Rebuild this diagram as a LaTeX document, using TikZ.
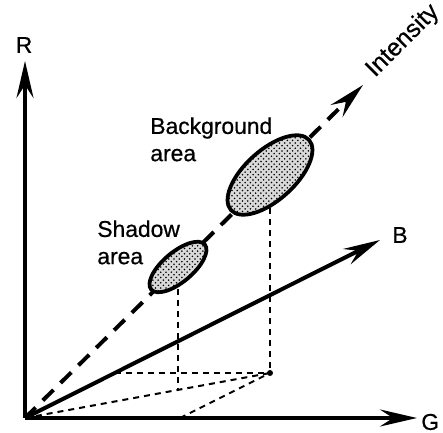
\documentclass[tikz,border=0pt]{standalone}
\usepackage{fontspec}
\setmainfont[FakeBold=0.6]{Liberation Sans}
\usetikzlibrary{arrows.meta,positioning,shapes.geometric,patterns}

\begin{document}
\begin{tikzpicture}[x=0.2mm,y=0.2mm,
    axis/.style={line width=0.8mm, -{Stealth[length=7.4mm,width=3.4mm,inset=2.6mm]}},
    proj/.style={line width=0.4mm, dash pattern=on 1.2mm off 1mm},
    blob/.style={ellipse, draw, line width=0.75mm, preaction={fill=gray!30}, pattern=crosshatch dots, inner sep=0pt},
    lbl/.style={font=\fontsize{13}{15.5}\selectfont, inner sep=0pt}]
    \useasboundingbox (0,0) rectangle (443,433);
    % axes ends
    \coordinate (O) at (25,15);
    \coordinate (R) at (25,372);
    \coordinate (G) at (417,15);
    \coordinate (B) at (380,193);
    \coordinate (I) at (363,348);
    % projection points
    \coordinate (P) at (270,60);
    \coordinate (Pg) at (180,15);
    \coordinate (Pb) at (115,60);
    \coordinate (Sf) at (178,43.1);
    \coordinate (Sc) at (178,166);
    \coordinate (Bc) at (270,258);
    % floor projection
    \draw[proj] (O) -- (P);
    \draw[proj] (Pg) -- (P);
    \draw[proj] (Pb) -- (P);
    \draw[proj] (Sc) -- (Sf);
    \draw[proj] (Bc) -- (P);
    \fill (P) circle (3);
    % intensity axis
    \draw[axis, dash pattern=on 3mm off 2mm] (O) -- (I);
    % colour clusters
    \node[blob, rotate=40, minimum width=14mm, minimum height=6mm] (shadow) at (Sc) {};
    \node[blob, rotate=42, minimum width=21mm, minimum height=10mm] (backgr) at (Bc) {};
    % RGB axes
    \draw[axis] (O) -- (B);
    \draw[axis] (O) -- (R);
    \draw[axis] (O) -- (G);
    % labels
    \node[lbl] (Rl) at (24,388) {R};
    \node[lbl, anchor=west] (Gl) at (421,11) {G};
    \node[lbl] (Bl) at (400,198) {B};
    \node[lbl, rotate=45, font=\fontsize{14}{16}\selectfont] (Il) at (403,392) {Intensity};
    \node[lbl, align=left, anchor=north west] (bgl) at (150,316) {Background\\area};
    \node[lbl, align=left, anchor=north west] (shl) at (97,213) {Shadow\\area};
\end{tikzpicture}
\end{document}
